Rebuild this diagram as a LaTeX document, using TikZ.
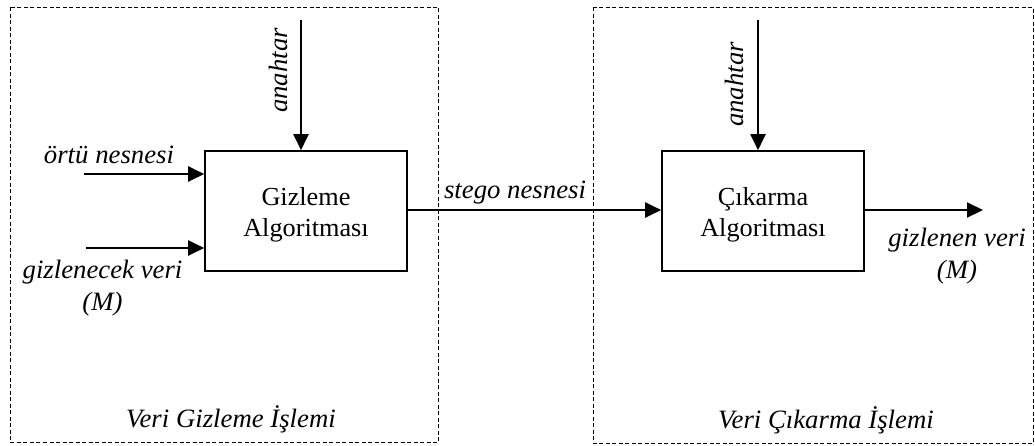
\documentclass[tikz,border=0pt]{standalone}
\usepackage{fontspec}
\usepackage{graphicx}
\setmainfont{Liberation Serif}
\usetikzlibrary{arrows.meta}
\newcommand\txtblock[1]{\scalebox{1.01}[1]{\begin{tabular}[t]{@{}c@{}}#1\end{tabular}}}
\newcommand\boxtext[1]{\raisebox{-3.6pt}[22.4pt][41.6pt]{\txtblock{#1}}}
\tikzset{
  region/.style={draw, dash pattern=on 4pt off 2.5pt, line width=1pt},
  algbox/.style={draw, line width=1.6pt, minimum width=202pt, minimum height=120pt, inner sep=0pt, font=\fontsize{26}{31}\selectfont},
  flow/.style={line width=2pt, -{Triangle[length=16pt,width=15pt]}},
  lbl/.style={inner sep=0pt, anchor=base, font=\fontsize{26.5}{32}\selectfont\itshape},
}
\renewcommand\arraystretch{1}
\begin{document}
\begin{tikzpicture}[x=1pt,y=-1pt]
\useasboundingbox (0,0) rectangle (1035,445);
\fill[white] (0,0) rectangle (1035,445);
% regions
\draw[region] (10,7) rectangle (438.5,442);
\draw[region] (593,7) rectangle (1033,443);
% boxes
\node[algbox] (giz) at (306,211) {\boxtext{Gizleme\\Algoritması}};
\node[algbox] (cik) at (763,211) {\boxtext{Çıkarma\\Algoritması}};
% free ends
\coordinate (k1) at (301,20);
\coordinate (k2) at (758,20);
\coordinate (o1) at (84,174);
\coordinate (g1) at (86,248);
\coordinate (out) at (983,210);
% connectors
\draw[flow] (k1) -- (k1 |- giz.north);
\draw[flow] (k2) -- (k2 |- cik.north);
\draw[flow] (o1) -- (o1 -| giz.west);
\draw[flow] (g1) -- (g1 -| giz.west);
\draw[flow] (giz.east |- 0,210) -- (cik.west |- 0,210);
\draw[flow] (cik.east |- out) -- (out);
% labels
\node[lbl, rotate=90] (lk1) at (287,70.5) {\txtblock{anahtar}};
\node[lbl, rotate=90] (lk2) at (743,84.5) {\txtblock{anahtar}};
\node[lbl] (lo) at (109,163.5) {\txtblock{örtü nesnesi}};
\node[lbl] (lg) at (102.5,278) {\txtblock{gizlenecek veri\\(M)}};
\node[lbl] (ls) at (515,198) {\txtblock{stego nesnesi}};
\node[lbl] (lout) at (957,246) {\txtblock{gizlenen veri\\(M)}};
\node[lbl] (r1) at (231,427) {\txtblock{Veri Gizleme İşlemi}};
\node[lbl] (r2) at (826,428) {\txtblock{Veri Çıkarma İşlemi}};
\end{tikzpicture}
\end{document}
